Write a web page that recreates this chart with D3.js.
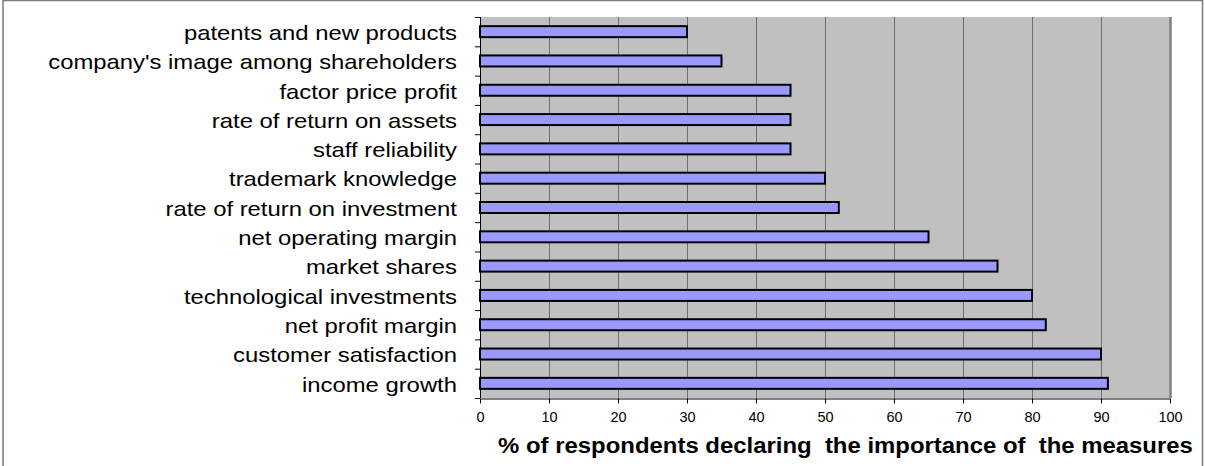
<!DOCTYPE html>
<html>
<head>
<meta charset="utf-8">
<script src="https://cdn.jsdelivr.net/npm/d3@7"></script>
<style>
  html, body { margin: 0; padding: 0; background: #fff; }
  svg { display: block; font-family: "Liberation Sans", Arial, sans-serif; }
</style>
</head>
<body>
<svg id="chart" width="1205" height="466"></svg>
<script>
// Performance measures, top to bottom
const categories = [
  "patents and new products",
  "company's image among shareholders",
  "factor price profit",
  "rate of return on assets",
  "staff reliability",
  "trademark knowledge",
  "rate of return on investment",
  "net operating margin",
  "market shares",
  "technological investments",
  "net profit margin",
  "customer satisfaction",
  "income growth"
];
const values = [30, 35, 45, 45, 45, 50, 52, 65, 75, 80, 82, 90, 91];
const xTicks = [0, 10, 20, 30, 40, 50, 60, 70, 80, 90, 100];
const xTitle = "% of respondents declaring  the importance of  the measures";

const svg = d3.select("#chart");
const W = 1205, H = 466;
const plot = { left: 480, right: 1170, top: 17, bottom: 398 };
const FONT = "'Liberation Sans', Arial, sans-serif";

// Outer frame
svg.append("rect")
  .attr("x", 3).attr("y", 0.5)
  .attr("width", W - 3 - 2.5).attr("height", H + 10)
  .attr("fill", "#fff").attr("stroke", "#7a7a7a").attr("stroke-width", 1.5);

const x = d3.scaleLinear().domain([0, 100]).range([plot.left, plot.right]);
const y = d3.scaleBand().domain(categories).range([plot.top, plot.bottom]).paddingInner(0).paddingOuter(0);

// Plot background
svg.append("rect")
  .attr("x", plot.left).attr("y", plot.top)
  .attr("width", plot.right - plot.left).attr("height", plot.bottom - plot.top)
  .attr("fill", "#c0c0c0");

// Vertical gridlines
svg.append("g").selectAll("line")
  .data(xTicks.slice(1))
  .join("line")
  .attr("x1", d => Math.round(x(d)) + 0.5).attr("x2", d => Math.round(x(d)) + 0.5)
  .attr("y1", plot.top).attr("y2", plot.bottom)
  .attr("stroke", d => d === 100 ? "#808080" : "#6e6e6e")
  .attr("stroke-width", d => d === 100 ? 2.5 : 1);

// Bars
const barH = 11;
svg.append("g").selectAll("rect")
  .data(categories.map((c, i) => ({ c, v: values[i] })))
  .join("rect")
  .attr("x", x(0))
  .attr("y", d => y(d.c) + y.bandwidth() / 2 - barH / 2)
  .attr("width", d => x(d.v) - x(0))
  .attr("height", barH)
  .attr("fill", "#9999ff")
  .attr("stroke", "#000")
  .attr("stroke-width", 2);

// Y axis: category labels, drawn slightly wide
const yAxis = d3.axisLeft(y).tickSize(0).tickPadding(0);
const gy = svg.append("g").attr("transform", `translate(${plot.left},0)`).call(yAxis);
gy.select(".domain").remove();
const labels = gy.selectAll("text")
  .attr("font-size", 20).attr("fill", "#000").attr("font-family", FONT)
  .attr("x", 0).attr("y", 0).attr("dy", 0);
const widest = d3.max(labels.nodes(), n => n.getComputedTextLength());
const sxLabel = 409 / widest;
labels.attr("transform", `translate(-23,8.3) scale(${sxLabel},1)`);

// Category separator ticks and axis line
svg.append("g").selectAll("line")
  .data(d3.range(categories.length + 1))
  .join("line")
  .attr("x1", plot.left - 5).attr("x2", plot.left)
  .attr("y1", i => plot.top + i * y.step() + 0.5)
  .attr("y2", i => plot.top + i * y.step() + 0.5)
  .attr("stroke", "#000");
svg.append("line")
  .attr("x1", plot.left + 0.5).attr("x2", plot.left + 0.5)
  .attr("y1", plot.top).attr("y2", plot.bottom)
  .attr("stroke", "#000");

// X axis
const xAxis = d3.axisBottom(x).tickValues(xTicks).tickSize(5).tickSizeOuter(0).tickPadding(0);
const gx = svg.append("g").attr("transform", `translate(0,${plot.bottom + 0.5})`).call(xAxis);
gx.select(".domain").attr("stroke", "#000");
gx.selectAll(".tick line").attr("stroke", "#000");
gx.selectAll("text").attr("font-size", 14.5).attr("fill", "#000")
  .attr("font-family", FONT).attr("y", 23.5).attr("dy", 0);

// X axis title
const title = svg.append("text")
  .attr("x", 0).attr("y", 0)
  .attr("text-anchor", "middle")
  .attr("font-size", 22).attr("font-weight", "bold").attr("font-family", FONT)
  .attr("xml:space", "preserve")
  .style("white-space", "pre")
  .text(xTitle);
const sxTitle = 695 / title.node().getComputedTextLength();
title.attr("transform", `translate(845.5,452.5) scale(${sxTitle},1)`);
</script>
</body>
</html>
